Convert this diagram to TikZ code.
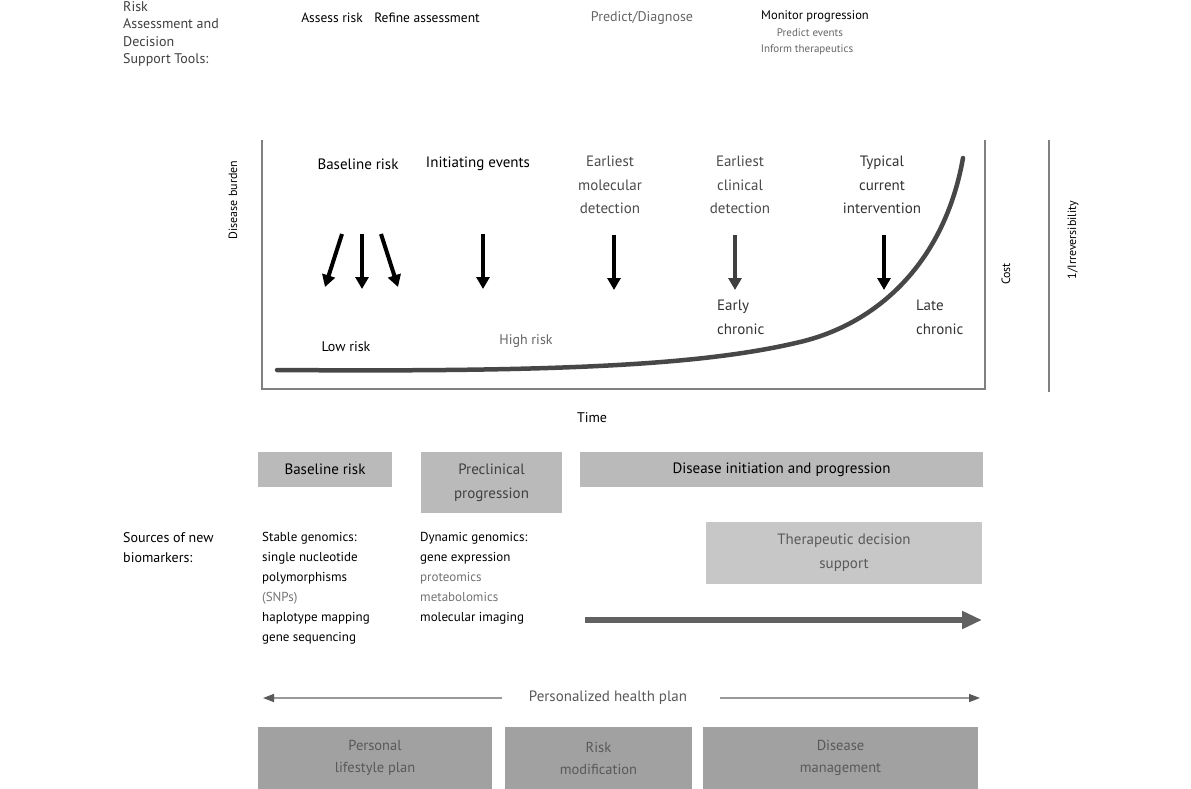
\documentclass[tikz,border=0pt]{standalone}
\usepackage{fontspec}
\setmainfont{PT Sans}
\usetikzlibrary{arrows.meta}
\begin{document}
\begin{tikzpicture}[x=1pt,y=-1pt,
  txt/.style={inner sep=0pt, font=\fontsize{12}{14}\selectfont, text=black},
  ftxt/.style={txt, text=black!60},
  big/.style={font=\fontsize{15}{18}\selectfont},
  mline/.style={txt, align=center, anchor=north, font=\fontsize{15}{23.5}\selectfont},
  lcol/.style={txt, align=left, anchor=north west, font=\fontsize{13}{19}\selectfont},
  rot/.style={txt, rotate=90, font=\fontsize{12}{14}\selectfont},
  frameline/.style={draw=black!50, line width=2.5pt},
  blackarrow/.style={draw=black, line width=4pt, -{Triangle[length=12pt,width=13pt]}},
  topbox/.style={fill=black!27, inner sep=0pt, align=center, font=\fontsize{15}{24}\selectfont},
  botbox/.style={fill=black!37, inner sep=0pt, align=center, text=black!65, font=\fontsize{14.5}{22}\selectfont},
  thinarrow/.style={draw=black!40, line width=1.5pt, -{Triangle[length=11pt,width=8pt,color=black!65]}},
  bigarrow/.style={draw=black!62, line width=5.5pt, -{Triangle[length=20pt,width=17pt]}}
]
\fill[white] (0,0) rectangle (1191,789);
\useasboundingbox (0,0) rectangle (1191,789);

% top labels
\node[txt, align=left, anchor=north west, text=black!75, font=\fontsize{14}{17.5}\selectfont] (tools) at (123,1) {Risk\\Assessment and\\Decision\\Support Tools:};
\node[txt, font=\fontsize{13.5}{16}\selectfont] (assess) at (332,18) {Assess risk};
\node[txt, font=\fontsize{13.5}{16}\selectfont] (refine) at (427,18) {Refine assessment};
\node[ftxt, font=\fontsize{14}{17}\selectfont] (predict) at (642,18) {Predict/Diagnose};
\node[txt, font=\fontsize{12.5}{15}\selectfont] (monitor) at (815,16) {Monitor progression};
\node[ftxt, font=\fontsize{11}{12}\selectfont] (pevents) at (810,33) {Predict events};
\node[ftxt, font=\fontsize{11}{12}\selectfont] (inform) at (807,50) {Inform therapeutics};

% chart frame
\draw[frameline] (262,140) -- (262,389) -- (985,389) -- (985,140);
\draw[frameline] (1049,140) -- (1049,392);
\node[rot] (burden) at (233,200) {Disease burden};
\node[rot] (cost) at (1006,274) {Cost};
\node[rot] (irrev) at (1073,240) {1/Irreversibility};
\node[txt, font=\fontsize{14}{16}\selectfont] (time) at (592,418) {Time};

% disease curve
\draw[black!72, line width=4.5pt, line cap=round] (277,370) .. controls (550,372) and (700,366) .. (800,342)
  .. controls (880,323) and (945,260) .. (963,158);

% stage labels
\node[txt, big] (baseline) at (358,164) {Baseline risk};
\node[txt, big] (initiating) at (478,164) {Initiating events};
\node[mline, text=black!70] (molecular) at (610,156) {Earliest\\molecular\\detection};
\node[mline, text=black!70] (clinical) at (740,156) {Earliest\\clinical\\detection};
\node[mline, text=black!80] (typical) at (882,156) {Typical\\current\\intervention};
\node[mline, align=left, anchor=north west, text=black!80, font=\fontsize{15}{24}\selectfont] (early) at (717,300) {Early\\chronic};
\node[mline, align=left, anchor=north west, text=black!80, font=\fontsize{15}{24}\selectfont] (late) at (916,300) {Late\\chronic};
\node[txt, font=\fontsize{14}{16}\selectfont] (lowrisk) at (346,347) {Low risk};
\node[ftxt, font=\fontsize{14}{16}\selectfont] (highrisk) at (526,341) {High risk};

% arrows
\coordinate (s1) at (342,234); \coordinate (e1) at (325,287);
\coordinate (s2) at (362,234); \coordinate (e2) at (362,289);
\coordinate (s3) at (381,234); \coordinate (e3) at (398,287);
\coordinate (s4) at (483,234); \coordinate (e4) at (483,289);
\coordinate (s5) at (614,235); \coordinate (e5) at (614,290);
\coordinate (s6) at (735,235); \coordinate (e6) at (735,290);
\coordinate (s7) at (884,235); \coordinate (e7) at (884,290);
\draw[blackarrow] (s1) -- (e1);
\draw[blackarrow] (s2) -- (e2);
\draw[blackarrow] (s3) -- (e3);
\draw[blackarrow] (s4) -- (e4);
\draw[blackarrow] (s5) -- (e5);
\draw[blackarrow, draw=black!75] (s6) -- (e6);
\draw[blackarrow] (s7) -- (e7);

% stage boxes
\node[topbox, minimum width=134pt, minimum height=35pt] (bbase) at (325,469.5) {Baseline risk};
\node[topbox, minimum width=141pt, minimum height=61pt, text=black!75] (bpre) at (491.5,482.5) {Preclinical\\progression};
\node[topbox, minimum width=403pt, minimum height=35pt] (bdis) at (781.5,469.5) {Disease initiation and progression};

% biomarkers
\node[lcol, font=\fontsize{14}{20}\selectfont] (sources) at (123,532) {Sources of new\\biomarkers:};
\node[lcol, font=\fontsize{13}{20}\selectfont] (stable) at (262,532) {Stable genomics:\\single nucleotide\\polymorphisms\\\textcolor{black!55}{(SNPs)}\\haplotype mapping\\gene sequencing};
\node[lcol, font=\fontsize{13}{20}\selectfont] (dynamic) at (420,532) {Dynamic genomics:\\gene expression\\\textcolor{black!55}{proteomics}\\\textcolor{black!55}{metabolomics}\\molecular imaging};

\node[topbox, fill=black!22, text=black!65, minimum width=276pt, minimum height=62pt] (therap) at (844,553) {Therapeutic decision\\support};
\coordinate (bigs) at (585,620); \coordinate (bige) at (982,620);
\draw[bigarrow] (bigs) -- (bige);

% personalized health plan
\node[txt, text=black!65, font=\fontsize{15}{17}\selectfont] (plan) at (608,698) {Personalized health plan};
\coordinate (pl1) at (502,698); \coordinate (pl2) at (263,698);
\coordinate (pr1) at (720,698); \coordinate (pr2) at (980,698);
\draw[thinarrow] (pl1) -- (pl2);
\draw[thinarrow] (pr1) -- (pr2);

\node[botbox, minimum width=234pt, minimum height=62pt] (lifestyle) at (375,758) {Personal\\lifestyle plan};
\node[botbox, minimum width=187pt, minimum height=62pt] (riskmod) at (598.5,758) {Risk\\modification};
\node[botbox, minimum width=275pt, minimum height=62pt] (dismgmt) at (840.5,758) {Disease\\management};
\end{tikzpicture}
\end{document}
